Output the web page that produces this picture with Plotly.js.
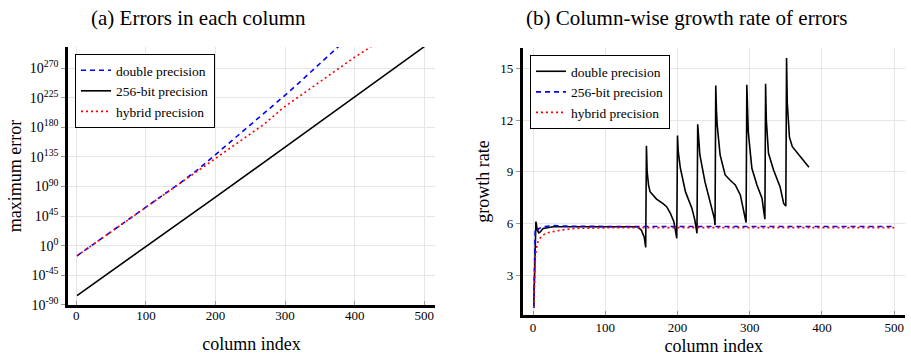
<!DOCTYPE html>
<html>
<head>
<meta charset="utf-8">
<script src="https://cdn.plot.ly/plotly-3.0.1.min.js"></script>
<style>html,body{margin:0;padding:0;background:#fff;}#chart{width:911px;height:360px;}</style>
</head>
<body>
<div id="chart"></div>
<script>
// ---------- Panel (a): maximum error per column (values as powers of ten) ----------
const errX_double = [1, 25, 50, 75, 100, 125, 150, 175, 200, 235, 270, 297, 320, 338, 360, 375, 381];
const errExp_double = [-15.5, 2.4, 21, 39.6, 58, 77, 96, 116, 138.5, 170.3, 201, 226.3, 248, 265, 287, 301.5, 307];
const errX_256 = [1, 100, 200, 300, 400, 500];
const errExp_256 = [-76, -2, 74, 150, 226.5, 303];
const errX_hybrid = [1, 25, 50, 75, 100, 125, 150, 175, 200, 235, 270, 297, 330, 374, 400, 420, 428];
const errExp_hybrid = [-15.5, 2.4, 21, 39.6, 58, 77, 95.5, 114.5, 132.5, 158.2, 185, 209.7, 234.5, 267.7, 287, 300.6, 306.5];
const errTickExp = [-90, -45, 0, 45, 90, 135, 180, 225, 270];

// ---------- Panel (b): column-wise growth rate ----------
const rateX_double = [1, 2, 3, 4, 6, 8, 10, 14, 20, 28, 60, 100, 145, 150, 154, 156,
  157, 158, 160, 162, 171, 180, 185, 190, 195, 199,
  200, 201, 204, 211, 220, 224, 226, 227,
  228, 229, 231, 238, 245, 249, 251, 252,
  253, 254, 255, 259, 266, 273, 280, 287, 292, 295,
  296, 297, 298, 303, 310, 317, 320, 321,
  322, 323, 326, 333, 342, 347, 350,
  351, 352, 353, 355, 359, 366, 375, 382];
const rateY_double = [1.1, 3.5, 5.0, 6.1, 5.6, 5.45, 5.5, 5.7, 5.75, 5.8, 5.8, 5.8, 5.8, 5.6, 5.2, 4.6,
  10.5, 9.0, 8.2, 7.84, 7.41, 7.15, 6.97, 6.6, 6.1, 5.13,
  11.1, 10.2, 9.2, 7.84, 6.87, 6.2, 5.8, 5.42,
  11.75, 10.9, 9.97, 8.42, 7.26, 6.7, 6.29, 5.9,
  14.0, 12.5, 11.7, 9.97, 8.81, 8.5, 8.23, 7.65, 6.7, 6.05,
  14.05, 12.5, 11.3, 9.2, 8.23, 7.46, 6.6, 6.24,
  14.1, 12.0, 10.07, 9.1, 8.13, 7.16, 7.0,
  15.6, 13.0, 12.0, 11.0, 10.45, 10.07, 9.58, 9.25];
const rateX_256 = [1, 2, 3, 5, 8, 14, 28, 40, 60, 100, 200, 300, 400, 500];
const rateY_256 = [1.1, 3.5, 5.6, 5.5, 5.7, 5.8, 5.88, 5.84, 5.82, 5.82, 5.82, 5.82, 5.82, 5.82];
const rateX_hybrid = [1, 2, 3, 5, 7, 10, 14, 20, 28, 40, 60, 80, 115, 200, 300, 400, 500];
const rateY_hybrid = [1.1, 2.8, 4.0, 4.6, 4.95, 5.15, 5.33, 5.45, 5.52, 5.62, 5.71, 5.74, 5.75, 5.75, 5.75, 5.75, 5.75];

const labels = ['double precision', '256-bit precision', 'hybrid precision'];
const xTicks = [0, 100, 200, 300, 400, 500];
const rateTicks = [3, 6, 9, 12, 15];

const FONT = '"Liberation Serif", "DejaVu Serif", serif';
const pow10 = a => a.map(e => Math.pow(10, e));

const traces = [
  {x: errX_double, y: pow10(errExp_double), name: labels[0], xaxis: 'x', yaxis: 'y', legend: 'legend',
   mode: 'lines', line: {color: '#0000ff', width: 1.6, dash: '5px,4px'}},
  {x: errX_256, y: pow10(errExp_256), name: labels[1], xaxis: 'x', yaxis: 'y', legend: 'legend',
   mode: 'lines', line: {color: '#000000', width: 1.6}},
  {x: errX_hybrid, y: pow10(errExp_hybrid), name: labels[2], xaxis: 'x', yaxis: 'y', legend: 'legend',
   mode: 'lines', line: {color: '#ff0000', width: 1.6, dash: '2px,3px'}},
  {x: rateX_double, y: rateY_double, name: labels[0], xaxis: 'x2', yaxis: 'y2', legend: 'legend2',
   mode: 'lines', line: {color: '#000000', width: 1.6}},
  {x: rateX_256, y: rateY_256, name: labels[1], xaxis: 'x2', yaxis: 'y2', legend: 'legend2',
   mode: 'lines', line: {color: '#0000ff', width: 1.6, dash: '5px,4px'}},
  {x: rateX_hybrid, y: rateY_hybrid, name: labels[2], xaxis: 'x2', yaxis: 'y2', legend: 'legend2',
   mode: 'lines', line: {color: '#ff0000', width: 1.6, dash: '2px,3px'}}
];

const W = 911, H = 360;
const axBase = {
  showline: true, linecolor: '#000', linewidth: 2.5, mirror: false,
  showgrid: true, gridcolor: '#e6e6e6', gridwidth: 1, zeroline: false,
  tickcolor: '#999', ticklen: 4, tickwidth: 1,
  tickfont: {family: FONT, size: 13, color: '#000'},
  automargin: false
};
const titleFont = {family: FONT, size: 18, color: '#000'};

const layout = {
  width: W, height: H,
  margin: {l: 0, r: 0, t: 0, b: 0},
  paper_bgcolor: '#fff', plot_bgcolor: '#fff',
  font: {family: FONT, color: '#000'},
  showlegend: true,
  xaxis: Object.assign({}, axBase, {
    domain: [68 / W, 435 / W], range: [-11.9, 515.4], tickvals: xTicks, ticks: 'inside', anchor: 'y',
    ticklabelstandoff: -3,
    title: {text: 'column index', font: titleFont, standoff: 16}
  }),
  yaxis: Object.assign({}, axBase, {
    domain: [(H - 305) / H, (H - 47) / H], type: 'log', range: [-90.4, 302.5], anchor: 'x',
    tickvals: pow10(errTickExp), ticktext: errTickExp.map(e => '10<sup>' + e + '</sup>'), ticks: 'outside',
    tickfont: {family: FONT, size: 14, color: '#000'},
    title: {text: 'maximum error', font: titleFont, standoff: 4}
  }),
  xaxis2: Object.assign({}, axBase, {
    domain: [522.7 / W, 905 / W], range: [-14.3, 515], tickvals: xTicks, ticks: 'inside', anchor: 'y2',
    ticklabelstandoff: -1,
    title: {text: 'column index', font: titleFont, standoff: 6}
  }),
  yaxis2: Object.assign({}, axBase, {
    domain: [(H - 315) / H, (H - 48) / H], range: [0.68, 16.18], tickvals: rateTicks, ticks: 'outside', anchor: 'x2',
    title: {text: 'growth rate', font: titleFont, standoff: 7}
  }),
  legend: {x: 75 / W, y: (H - 54) / H, xanchor: 'left', yanchor: 'top',
    bordercolor: '#000', borderwidth: 1, bgcolor: '#fff',
    font: {family: FONT, size: 13.5, color: '#000'}, itemwidth: 30, tracegroupgap: 0},
  legend2: {x: 530 / W, y: (H - 55) / H, xanchor: 'left', yanchor: 'top',
    bordercolor: '#000', borderwidth: 1, bgcolor: '#fff',
    font: {family: FONT, size: 13.5, color: '#000'}, itemwidth: 30, tracegroupgap: 0},
  annotations: [
    {text: '(a) Errors in each column', x: 198 / W, y: (H - 18) / H, xref: 'paper', yref: 'paper',
     xanchor: 'center', yanchor: 'middle', showarrow: false, font: {family: FONT, size: 21, color: '#000'}},
    {text: '(b) Column-wise growth rate of errors', x: 686 / W, y: (H - 18) / H, xref: 'paper', yref: 'paper',
     xanchor: 'center', yanchor: 'middle', showarrow: false, font: {family: FONT, size: 21, color: '#000'}}
  ]
};

Plotly.newPlot('chart', traces, layout, {displayModeBar: false});
</script>
</body>
</html>
